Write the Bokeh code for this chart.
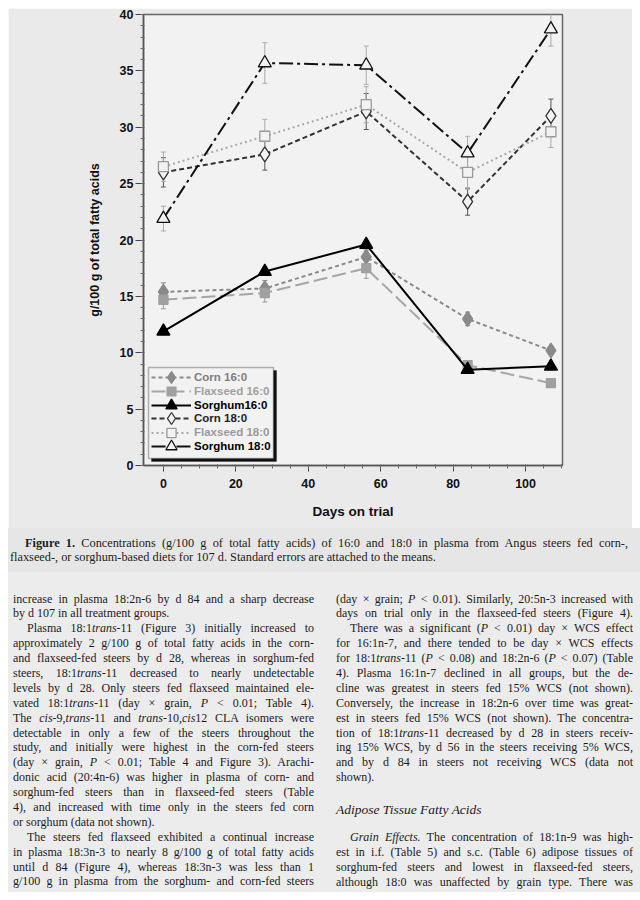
import numpy as np
from bokeh.plotting import figure
from bokeh.models import (ColumnDataSource, Whisker, TeeHead, Legend, LegendItem,
                          BoxAnnotation, Div, FixedTicker, Range1d, Spacer)
from bokeh.layouts import column, row
from bokeh.embed import file_html
from bokeh.resources import INLINE

# ---------------- data ----------------
days = [0, 28, 56, 84, 107]
series_names = ["Corn 16:0", "Flaxseed 16:0", "Sorghum16:0",
                "Corn 18:0", "Flaxseed 18:0", "Sorghum 18:0"]
corn_160 = [15.4, 15.7, 18.5, 13.0, 10.2]
corn_160_se = [0.8, 0.7, 0.6, 0.6, 0.3]
flax_160 = [14.7, 15.3, 17.5, 8.9, 7.3]
flax_160_se = [0.8, 0.8, 0.9, 0.4, 0.3]
sorg_160 = [11.9, 17.2, 19.6, 8.5, 8.8]
sorg_160_se = [0.3, 0.3, 0.3, 0.3, 0.3]
corn_180 = [26.0, 27.6, 31.4, 23.4, 31.0]
corn_180_se = [1.3, 1.4, 1.6, 1.2, 1.5]
flax_180 = [26.5, 29.2, 32.0, 26.0, 29.6]
flax_180_se = [1.3, 1.5, 1.6, 1.5, 1.4]
sorg_180 = [21.9, 35.7, 35.5, 27.7, 38.7]
sorg_180_se = [1.1, 1.8, 1.7, 1.5, 1.5]
x_ticks = [0, 20, 40, 60, 80, 100]
y_ticks = [0, 5, 10, 15, 20, 25, 30, 35, 40]

values = [corn_160, flax_160, sorg_160, corn_180, flax_180, sorg_180]
errors = [corn_160_se, flax_160_se, sorg_160_se, corn_180_se, flax_180_se, sorg_180_se]

# ---------------- styles ----------------
PLOT_BG = "#f2f2f2"
PAGE_BG = "#eaeaea"
line_colors = ["#8a8a8a", "#a6a6a6", "#000000", "#333333", "#a8a8a8", "#111111"]
line_dashes = ["4 3", "14 5", "solid", "5 3", "2 3", "14 4 3 4"]
markers = ["diamond", "square", "triangle", "diamond", "square", "triangle"]
sizes = [15, 9, 13, 15, 10, 13]
fills = ["#8a8a8a", "#a0a0a0", "#000000", PLOT_BG, PLOT_BG, PLOT_BG]
mk_lines = ["#8a8a8a", "#a0a0a0", "#000000", "#333333", "#999999", "#111111"]
err_colors = ["#8a8a8a", "#999999", "#555555", "#555555", "#aaaaaa", "#aaaaaa"]
label_colors = ["#7e7e7e", "#a0a0a0", "#000000", "#222222", "#9a9a9a", "#000000"]
legend_gh = [30, 22, 28, 30, 23, 28]

p = figure(width=624, height=520, output_backend="svg", toolbar_location=None,
           x_range=Range1d(-5.5, 110.2), y_range=Range1d(0, 40),
           min_border_left=135, min_border_right=70, min_border_top=6,
           min_border_bottom=63)
p.background_fill_color = PLOT_BG
p.border_fill_color = PAGE_BG
p.outline_line_color = "#666666"
p.outline_line_width = 1.5
p.xgrid.visible = False
p.ygrid.visible = False

p.xaxis.ticker = FixedTicker(ticks=x_ticks, minor_ticks=list(range(0, 111, 5)))
p.yaxis.ticker = FixedTicker(ticks=y_ticks, minor_ticks=list(range(0, 41, 1)))
for ax in (p.xaxis[0], p.yaxis[0]):
    ax.axis_line_color = "#555555"
    ax.axis_line_width = 1.5
    ax.major_tick_line_color = "#444444"
    ax.minor_tick_line_color = "#666666"
    ax.major_tick_in = 0
    ax.minor_tick_out = 3
    ax.minor_tick_in = 1
    ax.major_label_text_font = "Liberation Sans"
    ax.major_label_text_font_style = "bold"
    ax.major_label_text_font_size = "12.5px"
    ax.major_label_text_color = "#111111"
    ax.axis_label_text_font = "Liberation Sans"
    ax.axis_label_text_font_style = "bold"
    ax.axis_label_text_color = "#111111"
p.xaxis.major_tick_out = 6
p.yaxis.major_tick_out = 8
p.xaxis.axis_label = "Days on trial"
p.xaxis.axis_label_text_font_size = "13.5px"
p.xaxis.major_label_standoff = 7
p.xaxis.axis_label_standoff = 13
p.yaxis.axis_label = "g/100 g of total fatty acids"
p.yaxis.axis_label_text_font_size = "12.5px"
p.yaxis.major_label_standoff = 2
p.yaxis.axis_label_standoff = 15

line_rs, mark_rs = [], []
for i in range(6):
    src = ColumnDataSource(dict(
        x=days, y=values[i],
        lo=[v - e for v, e in zip(values[i], errors[i])],
        hi=[v + e for v, e in zip(values[i], errors[i])]))
    w = Whisker(source=src, base="x", upper="hi", lower="lo", dimension="height",
                line_color=err_colors[i], line_width=1,
                upper_head=TeeHead(size=5, line_color=err_colors[i], line_width=1),
                lower_head=TeeHead(size=5, line_color=err_colors[i], line_width=1))
    w.level = "underlay"
    p.add_layout(w)
for i in range(6):
    src = ColumnDataSource(dict(x=days, y=values[i]))
    lr = p.line("x", "y", source=src, line_color=line_colors[i], line_width=2,
                line_dash=line_dashes[i])
    sr = p.scatter("x", "y", source=src, marker=markers[i], size=sizes[i],
                   fill_color=fills[i], line_color=mk_lines[i], line_width=1.3)
    line_rs.append(lr)
    mark_rs.append(sr)

# legend box with shadow (offset 3px)
xpx = 115.7 / 419.0
ypx = 40.0 / 451.0
p.add_layout(BoxAnnotation(left=-5.5 + 8 * xpx, right=-5.5 + 133 * xpx,
                           bottom=4 * ypx, top=95 * ypx,
                           fill_color="#111111", fill_alpha=1, line_color="#111111"))
p.add_layout(BoxAnnotation(left=-5.5 + 5 * xpx, right=-5.5 + 130 * xpx,
                           bottom=7 * ypx, top=98 * ypx,
                           fill_color=PLOT_BG, fill_alpha=1, line_color="#111111",
                           line_width=1.5))
for i in range(6):
    gh = legend_gh[i]
    leg = Legend(items=[LegendItem(label=series_names[i],
                                   renderers=[line_rs[i], mark_rs[i]])],
                 location=(8, 81.5 - 13.8 * i - (gh - 13) / 2.0),
                 padding=0, spacing=0, margin=0,
                 border_line_color=None, background_fill_alpha=0,
                 glyph_width=40, glyph_height=gh, label_height=gh, label_standoff=3,
                 label_text_font="Liberation Sans", label_text_font_style="bold",
                 label_text_font_size="11.5px", label_text_color=label_colors[i])
    p.add_layout(leg, "center")

# ---------------- caption & body text ----------------
caption = Div(width=632, height=44, margin=0,
              styles={"background-color": "#e6e6e6", "overflow": "hidden"},
              text="""
<div style="font-family:'Liberation Serif',serif;font-size:12.3px;color:#222;line-height:14px;padding:8px 4px 0 2px;height:34px;">
<div style="white-space:nowrap;text-align:justify;text-align-last:justify;text-indent:15px;width:618px;"><b>Figure 1.</b> Concentrations (g/100 g of total fatty acids) of 16:0 and 18:0 in plasma from Angus steers fed corn-,</div>
<div style="white-space:nowrap;">flaxseed-, or sorghum-based diets for 107 d. Standard errors are attached to the means.</div>
</div>""")

left_lines = [
    ("j", "increase in plasma 18:2n-6 by d 84 and a sharp decrease"),
    ("e", "by d 107 in all treatment groups."),
    ("ij", "Plasma 18:1<i>trans</i>-11 (Figure 3) initially increased to"),
    ("j", "approximately 2 g/100 g of total fatty acids in the corn-"),
    ("j", "and flaxseed-fed steers by d 28, whereas in sorghum-fed"),
    ("j", "steers, 18:1<i>trans</i>-11 decreased to nearly undetectable"),
    ("j", "levels by d 28. Only steers fed flaxseed maintained ele-"),
    ("j", "vated 18:1<i>trans</i>-11 (day &times; grain, <i>P</i> &lt; 0.01; Table 4)."),
    ("j", "The <i>cis</i>-9,<i>trans</i>-11 and <i>trans</i>-10,<i>cis</i>12 CLA isomers were"),
    ("j", "detectable in only a few of the steers throughout the"),
    ("j", "study, and initially were highest in the corn-fed steers"),
    ("j", "(day &times; grain, <i>P</i> &lt; 0.01; Table 4 and Figure 3). Arachi-"),
    ("j", "donic acid (20:4n-6) was higher in plasma of corn- and"),
    ("j", "sorghum-fed steers than in flaxseed-fed steers (Table"),
    ("j", "4), and increased with time only in the steers fed corn"),
    ("e", "or sorghum (data not shown)."),
    ("ij", "The steers fed flaxseed exhibited a continual increase"),
    ("j", "in plasma 18:3n-3 to nearly 8 g/100 g of total fatty acids"),
    ("j", "until d 84 (Figure 4), whereas 18:3n-3 was less than 1"),
    ("j", "g/100 g in plasma from the sorghum- and corn-fed steers"),
]
right_lines = [
    ("j", "(day &times; grain; <i>P</i> &lt; 0.01). Similarly, 20:5n-3 increased with"),
    ("j", "days on trial only in the flaxseed-fed steers (Figure 4)."),
    ("ij", "There was a significant (<i>P</i> &lt; 0.01) day &times; WCS effect"),
    ("j", "for 16:1n-7, and there tended to be day &times; WCS effects"),
    ("j", "for 18:1<i>trans</i>-11 (<i>P</i> &lt; 0.08) and 18:2n-6 (<i>P</i> &lt; 0.07) (Table"),
    ("j", "4). Plasma 16:1n-7 declined in all groups, but the de-"),
    ("j", "cline was greatest in steers fed 15% WCS (not shown)."),
    ("j", "Conversely, the increase in 18:2n-6 over time was great-"),
    ("j", "est in steers fed 15% WCS (not shown). The concentra-"),
    ("j", "tion of 18:1<i>trans</i>-11 decreased by d 28 in steers receiv-"),
    ("j", "ing 15% WCS, by d 56 in the steers receiving 5% WCS,"),
    ("j", "and by d 84 in steers not receiving WCS (data not"),
    ("e", "shown)."),
    ("h", "<i>Adipose Tissue Fatty Acids</i>"),
    ("ij", "<i>Grain Effects.</i> The concentration of 18:1n-9 was high-"),
    ("j", "est in i.f. (Table 5) and s.c. (Table 6) adipose tissues of"),
    ("j", "sorghum-fed steers and lowest in flaxseed-fed steers,"),
    ("j", "although 18:0 was unaffected by grain type. There was"),
]


def render(lines, left, width):
    out = []
    for kind, txt in lines:
        st = "white-space:nowrap;height:14.9px;"
        if "j" in kind:
            st += "text-align:justify;text-align-last:justify;"
        if "i" in kind:
            st += "text-indent:14px;"
        if kind == "h":
            st += "margin-top:18px;margin-bottom:12px;font-size:13.5px;height:15px;"
        out.append('<div style="%s">%s</div>' % (st, txt))
    return ('<div style="position:absolute;top:19.5px;left:%dpx;width:%dpx;">' % (left, width)
            + "".join(out) + "</div>")


body_html = ('<div style="position:relative;width:632px;height:320px;'
             "font-family:'Liberation Serif',serif;font-size:12px;line-height:14.9px;color:#1b1b1b;\">"
             + render(left_lines, 5, 301)
             + render(right_lines, 328, 297)
             + "</div>")
body = Div(width=632, height=320, margin=0, text=body_html,
           styles={"background-color": "#ececec", "overflow": "hidden"})

layout = row(Spacer(width=8, height=892, margin=0),
             column(Spacer(height=8, width=624, margin=0), p, caption, body, spacing=0),
             spacing=0)
open("out.html", "w").write(file_html(layout, INLINE))
